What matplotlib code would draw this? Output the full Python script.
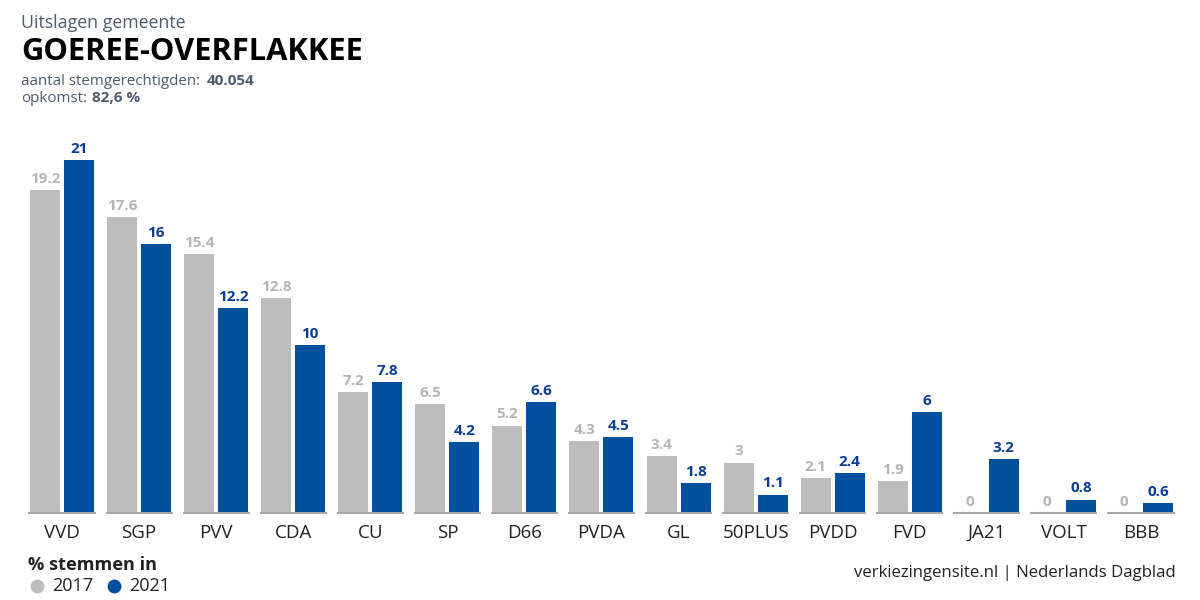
import matplotlib
matplotlib.use('Agg')
import matplotlib.pyplot as plt
import numpy as np

plt.rcParams['font.family'] = ['Open Sans', 'DejaVu Sans']

parties = ['VVD', 'SGP', 'PVV', 'CDA', 'CU', 'SP', 'D66', 'PVDA', 'GL', '50PLUS',
           'PVDD', 'FVD', 'JA21', 'VOLT', 'BBB']
votes_2017 = [19.2, 17.6, 15.4, 12.8, 7.2, 6.5, 5.2, 4.3, 3.4, 3, 2.1, 1.9, 0, 0, 0]
votes_2021 = [21, 16, 12.2, 10, 7.8, 4.2, 6.6, 4.5, 1.8, 1.1, 2.4, 6, 3.2, 0.8, 0.6]
labels_2017 = ['19.2', '17.6', '15.4', '12.8', '7.2', '6.5', '5.2', '4.3', '3.4', '3', '2.1', '1.9', '0', '0', '0']
labels_2021 = ['21', '16', '12.2', '10', '7.8', '4.2', '6.6', '4.5', '1.8', '1.1', '2.4', '6', '3.2', '0.8', '0.6']

GREY = '#bdbdbd'
BLUE = '#00509e'
LABEL_GREY = '#b5b5b5'
LABEL_BLUE = '#0a3d91'
SLATE = '#4f5b6e'
STEP = 77.07

#=====================================================

def main():

    fig = plt.figure(figsize=(12, 6), dpi=100, facecolor='white')
    ax = fig.add_axes([0, 87/600, 1, 383/600])

    x = np.arange(len(parties))
    width = 30/STEP
    offset = 17/STEP

    ax.bar(x - offset, votes_2017, width, color=GREY, linewidth=0)
    ax.bar(x + offset, votes_2021, width, color=BLUE, linewidth=0)
    ax.hlines(np.zeros(len(x)), x - 0.435, x + 0.435, color='#a8a8a8', linewidth=1.5, zorder=3, clip_on=False)

    for i in x:
        ax.annotate(labels_2017[i], (i - offset, votes_2017[i]), xytext=(0, 3),
                    textcoords='offset points', ha='center', va='bottom',
                    fontsize=11, fontweight='bold', color=LABEL_GREY)
        ax.annotate(labels_2021[i], (i + offset, votes_2021[i]), xytext=(0, 3),
                    textcoords='offset points', ha='center', va='bottom',
                    fontsize=11, fontweight='bold', color=LABEL_BLUE)

    ax.set_xlim(-62/STEP, (1200 - 62)/STEP)
    ax.set_ylim(0, 383/16.8)
    ax.set_xticks(x, parties, fontsize=13.5, color='#222222')
    ax.tick_params(axis='x', length=0, pad=8)
    ax.set_yticks([])
    for spine in ax.spines.values():
        spine.set_visible(False)
    ax.patch.set_alpha(0)

    # Header
    fig.text(21/1200, 1 - 28/600, 'Uitslagen gemeente', fontsize=12.8, color=SLATE, va='baseline')
    fig.text(21/1200, 1 - 60/600, 'GOEREE-OVERFLAKKEE', fontsize=22.2, fontweight='bold', color='black', va='baseline')
    fig.text(21/1200, 1 - 85/600, 'aantal stemgerechtigden:', fontsize=10.9, color=SLATE, va='baseline')
    fig.text(207/1200, 1 - 85/600, '40.054', fontsize=11, fontweight='bold', color=SLATE, va='baseline')
    fig.text(21/1200, 1 - 102/600, 'opkomst:', fontsize=10.9, color=SLATE, va='baseline')
    fig.text(92/1200, 1 - 102/600, '82,6 %', fontsize=11, fontweight='bold', color=SLATE, va='baseline')

    # Legend
    fig.text(28/1200, 1 - 570/600, '% stemmen in', fontsize=13.1, fontweight='bold', color='#222222', va='baseline')
    fig.text(52/1200, 1 - 591/600, '2017', fontsize=13, color='#222222', va='baseline')
    fig.text(129/1200, 1 - 591/600, '2021', fontsize=13, color='#222222', va='baseline')
    fig.add_artist(plt.Line2D([37/1200], [1 - 586/600], marker='o', markersize=9, color=GREY, linewidth=0))
    fig.add_artist(plt.Line2D([114/1200], [1 - 586/600], marker='o', markersize=9, color=BLUE, linewidth=0))

    # Source
    fig.text(1176/1200, 1 - 577/600, 'verkiezingensite.nl | Nederlands Dagblad', fontsize=12.1,
             color='#222222', ha='right', va='baseline')

    fig.savefig('out.png', dpi=100)

    return

#=====================================================

if __name__ == '__main__':
    main()
